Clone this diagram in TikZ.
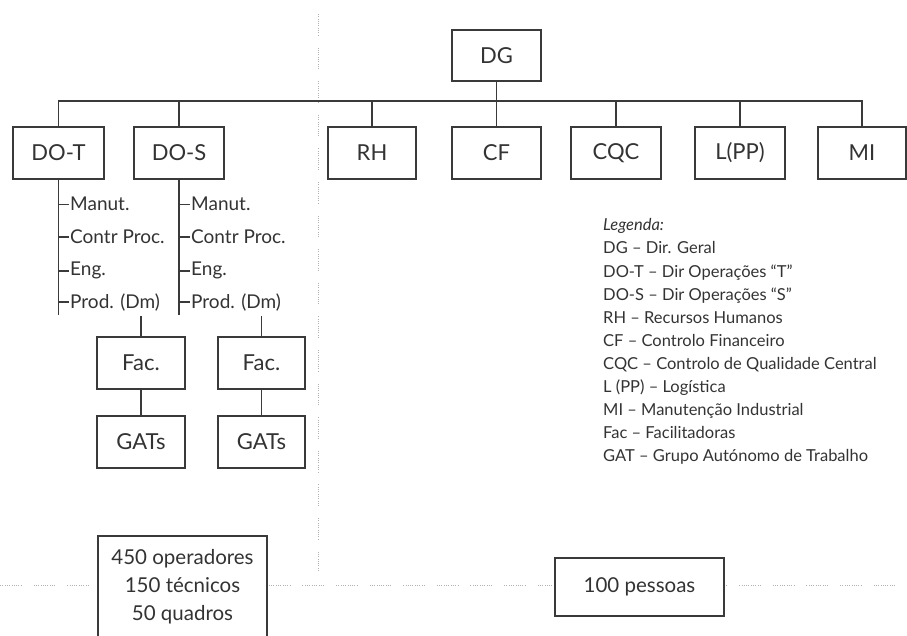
\documentclass[tikz,border=0pt]{standalone}
\usepackage{fontspec}
\setmainfont{Lato}
\definecolor{linec}{HTML}{3A3A3A}
\definecolor{txt}{HTML}{333333}
\begin{document}
\begin{tikzpicture}[x=1pt,y=-1pt,
  box/.style={draw=linec, line width=1.7pt, fill=white, inner sep=0pt, text=txt, font=\fontsize{22}{26}\selectfont},
  conn/.style={draw=linec, line width=1.5pt},
  dots/.style={draw=gray!60, line width=1pt, dash pattern=on 0.9pt off 1.4pt on 0.9pt off 1.4pt on 0.9pt off 1.4pt on 0.9pt off 1.4pt on 0.9pt off 1.4pt on 0.9pt off 1.4pt on 0.9pt off 1.4pt on 0.9pt off 1.4pt on 0.9pt off 1.4pt on 0.9pt off 12pt},
  item/.style={anchor=base west, inner sep=0pt, text=txt, font=\fontsize{19}{21}\selectfont},
  leg/.style={anchor=base west, inner sep=0pt, text=txt, font=\fontsize{16.5}{18}\selectfont},
]
\useasboundingbox (0,0) rectangle (907,636);
\clip (0,0) rectangle (907,636);

% dotted separators
\draw[dots] (0,585) -- (907,585);
\draw[dots] (318,14) -- (318,572);

% top level
\node[box, minimum width=89pt, minimum height=51pt] (dg) at (496.5,55.5) {DG};
\node[box, minimum width=91pt, minimum height=52pt] (dot) at (58.5,153) {DO-T};
\node[box, minimum width=90pt, minimum height=52pt] (dos) at (179,153) {DO-S};
\node[box, minimum width=88pt, minimum height=52pt] (rh) at (372,153) {RH};
\node[box, minimum width=89pt, minimum height=52pt] (cf) at (496.5,153) {CF};
\node[box, minimum width=90pt, minimum height=52pt] (cqc) at (616,153) {CQC};
\node[box, minimum width=90pt, minimum height=52pt] (lpp) at (740,153) {L(PP)};
\node[box, minimum width=88pt, minimum height=52pt] (mi) at (862,153) {MI};

\coordinate (bus) at (0,101);
\draw[conn] (dot.north) -- (dot.north |- bus) -- (mi.north |- bus) -- (mi.north);
\draw[conn] (dg.south) -- (dg.south |- bus);
\foreach \n in {dos,rh,cf,cqc,lpp} \draw[conn] (\n.north) -- (\n.north |- bus);

% lists
\coordinate (dotEnd) at (58.5,315);
\coordinate (dosEnd) at (179,315);
\draw[conn] (dot.south) -- (dotEnd);
\draw[conn] (dos.south) -- (dosEnd);
\node[item] (t1) at (70,211) {Manut.};
\node[item] (t2) at (70,244) {Contr Proc.};
\node[item] (t3) at (70,276) {Eng.};
\node[item] (t4) at (70,308) {Prod. (Dm)};
\node[item] (s1) at (191,211) {Manut.};
\node[item] (s2) at (191,244) {Contr Proc.};
\node[item] (s3) at (191,276) {Eng.};
\node[item] (s4) at (191,308) {Prod. (Dm)};
\foreach \n in {t1,t2,t3,t4} \draw[conn] (dot.south |- \n.west) -- ([xshift=-1pt]\n.west);
\foreach \n in {s1,s2,s3,s4} \draw[conn] (dos.south |- \n.west) -- ([xshift=-1pt]\n.west);

% Fac and GATs
\node[box, minimum width=88pt, minimum height=52pt] (facT) at (141,363) {Fac.};
\node[box, minimum width=87pt, minimum height=52pt] (facS) at (261.5,363) {Fac.};
\node[box, minimum width=88pt, minimum height=52pt] (gatT) at (141,442) {GATs};
\node[box, minimum width=87pt, minimum height=52pt] (gatS) at (261.5,442) {GATs};
\coordinate (facTtop) at (141,316);
\coordinate (facStop) at (261.5,316);
\draw[conn] (facTtop) -- (facT.north);
\draw[conn] (facStop) -- (facS.north);
\draw[conn] (facT.south) -- (gatT.north);
\draw[conn] (facS.south) -- (gatS.north);

% legend
\node[leg, font=\fontsize{16.5}{18}\selectfont\itshape] (l0) at (603,231) {Legenda:};
\node[leg] (l1) at (603,254) {DG – Dir. Geral};
\node[leg] (l2) at (603,277) {DO-T – Dir Operações “T”};
\node[leg] (l3) at (603,300) {DO-S – Dir Operações “S”};
\node[leg] (l4) at (603,323) {RH – Recursos Humanos};
\node[leg] (l5) at (603,346) {CF – Controlo Financeiro};
\node[leg] (l6) at (603,369) {CQC – Controlo de Qualidade Central};
\node[leg] (l7) at (603,392) {L (PP) – Logística};
\node[leg] (l8) at (603,415) {MI – Manutenção Industrial};
\node[leg] (l9) at (603,438) {Fac – Facilitadoras};
\node[leg] (l10) at (603,461) {GAT – Grupo Autónomo de Trabalho};

% bottom boxes
\node[box, minimum width=169pt, minimum height=102pt, align=center, font=\fontsize{20.5}{28}\selectfont] (ops) at (182.5,587) {450 operadores\\150 técnicos\\50 quadros};
\node[box, minimum width=169pt, minimum height=58pt, font=\fontsize{20.5}{24}\selectfont] (pes) at (639.5,587) {100 pessoas};
\end{tikzpicture}
\end{document}
